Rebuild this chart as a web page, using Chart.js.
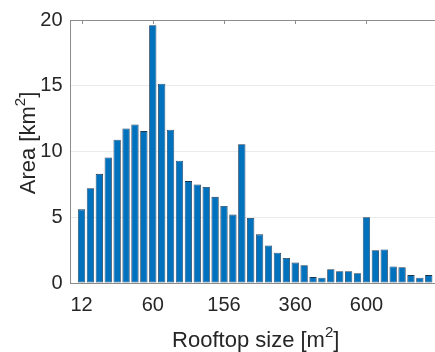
<!DOCTYPE html>
<html>
<head>
<meta charset="utf-8">
<script src="https://cdn.jsdelivr.net/npm/chart.js@4.4.1/dist/chart.umd.min.js"></script>
<style>
  html, body { margin: 0; padding: 0; background: #fff; }
  #wrap { width: 435px; height: 352px; }
</style>
</head>
<body>
<div id="wrap"><canvas id="areaChart"></canvas></div>
<script>
// Surface totale par classe de taille de toiture (km2)
const areaValues = [
  5.6, 7.2, 8.3, 9.55, 10.9, 11.75, 12.05, 11.55, 19.6, 15.15,
  11.65, 9.3, 7.75, 7.5, 7.3, 6.55, 5.85, 5.2, 10.55, 4.95,
  3.7, 2.85, 2.3, 1.9, 1.55, 1.35, 0.45, 0.4, 1.05, 0.9,
  0.9, 0.75, 5.0, 2.5, 2.55, 1.25, 1.2, 0.6, 0.4, 0.6
];
// Graduations de l'axe x : position de la classe et libellé
const tickIndex = [0, 8, 16, 24, 32];
const tickLabels = ['12', '60', '156', '360', '600'];
const yTicks = [0, 5, 10, 15, 20];

const fontFamily = "'Liberation Sans', Arial, Helvetica, sans-serif";
const textColor = '#262626';
const axisColor = '#8c8c8c';

// Titres d'axes avec exposant + cadre et graduations du haut
const axesDecor = {
  id: 'axesDecor',
  afterDraw(chart) {
    const ctx = chart.ctx;
    const a = chart.chartArea;
    const xs = chart.scales.x;

    ctx.save();
    ctx.strokeStyle = axisColor;
    ctx.lineWidth = 1;
    ctx.beginPath();
    ctx.moveTo(a.left, a.top + 0.5);
    ctx.lineTo(a.right, a.top + 0.5);
    ctx.stroke();
    tickIndex.forEach(function(i) {
      const px = Math.round(xs.getPixelForValue(i)) + 0.5;
      ctx.beginPath();
      ctx.moveTo(px, a.top);
      ctx.lineTo(px, a.top + 4);
      ctx.stroke();
    });

    ctx.fillStyle = textColor;
    ctx.textBaseline = 'alphabetic';

    // titre x
    drawWithSup(ctx, 'Rooftop size [m', '2', ']', (a.left + a.right) / 2 + 3, 347);

    // titre y
    ctx.translate(35, 143);
    ctx.rotate(-Math.PI / 2);
    drawWithSup(ctx, 'Area [km', '2', ']', 0, 0);
    ctx.restore();
  }
};

function drawWithSup(ctx, before, sup, after, cx, y) {
  const big = '22px ' + fontFamily;
  const small = '15px ' + fontFamily;
  ctx.font = big;
  const w1 = ctx.measureText(before).width;
  const w3 = ctx.measureText(after).width;
  ctx.font = small;
  const w2 = ctx.measureText(sup).width;
  let x = cx - (w1 + w2 + w3) / 2;
  ctx.textAlign = 'left';
  ctx.font = big;
  ctx.fillText(before, x, y);
  x += w1;
  ctx.font = small;
  ctx.fillText(sup, x, y - 10);
  x += w2;
  ctx.font = big;
  ctx.fillText(after, x, y);
}

const ctx = document.getElementById('areaChart').getContext('2d');
new Chart(ctx, {
  type: 'bar',
  data: {
    datasets: [{
      data: areaValues.map(function(v, i) { return { x: i, y: v }; }),
      backgroundColor: '#0072BD',
      borderColor: '#1c3550',
      borderWidth: 0.8,
      borderSkipped: false,
      barPercentage: 0.82,
      categoryPercentage: 1
    }]
  },
  plugins: [axesDecor],
  options: {
    responsive: true,
    maintainAspectRatio: false,
    animation: false,
    layout: { padding: { top: 15, right: 0, left: 0, bottom: 0 } },
    plugins: {
      legend: { display: false },
      tooltip: { enabled: false }
    },
    scales: {
      x: {
        type: 'linear',
        offset: false,
        min: -1.24,
        max: 39.7,
        afterFit: function(s) { s.height = 69; },
        afterBuildTicks: function(s) {
          s.ticks = tickIndex.map(function(v) { return { value: v }; });
        },
        ticks: {
          autoSkip: false,
          maxRotation: 0,
          padding: 10,
          color: textColor,
          font: { family: fontFamily, size: 20 },
          callback: function(value) {
            const k = tickIndex.indexOf(value);
            return k >= 0 ? tickLabels[k] : '';
          }
        },
        grid: { display: false, offset: false, drawTicks: false },
        border: { display: true, color: axisColor, width: 1 }
      },
      y: {
        min: 0,
        max: 20,
        afterFit: function(s) { s.width = 70.5; },
        afterBuildTicks: function(s) {
          s.ticks = yTicks.map(function(v) { return { value: v }; });
        },
        ticks: {
          padding: 8,
          color: textColor,
          font: { family: fontFamily, size: 20 }
        },
        grid: { color: '#ebebeb', drawTicks: false },
        border: { display: true, color: axisColor, width: 1 }
      }
    }
  }
});
</script>
</body>
</html>
